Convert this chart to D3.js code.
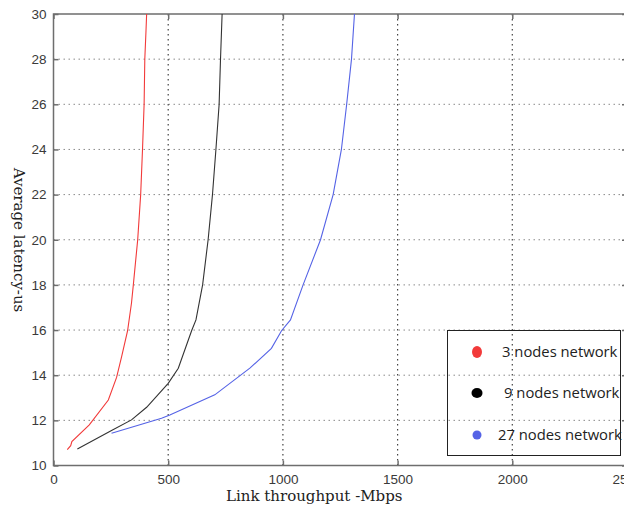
<!DOCTYPE html>
<html>
<head>
<meta charset="utf-8">
<script src="https://cdn.jsdelivr.net/npm/d3@7"></script>
<style>
  body { margin: 0; background: #fff; }
  svg { display: block; }
</style>
</head>
<body>
<svg id="chart" width="624" height="506"></svg>
<script>
// values: [throughput Mbps, latency us]
var nodes3 = [[60, 10.7], [75, 10.88], [80, 11.06], [156, 11.8], [239, 12.9], [275, 13.9],
  [297, 14.82], [323, 15.97], [340, 17.2], [348, 18], [367, 20], [380, 22], [388, 24],
  [395, 26], [398, 28], [403, 29.2], [406, 30]];
var nodes9 = [[104, 10.73], [253, 11.55], [340, 12.02], [406, 12.58], [500, 13.64],
  [544, 14.31], [602, 15.97], [621, 16.45], [650, 18], [674, 20], [693, 22], [708, 24],
  [722, 26], [728, 28], [735, 30]];
var nodes27 = [[253, 11.43], [471, 12.09], [507, 12.24], [703, 13.13], [856, 14.31],
  [950, 15.19], [994, 15.97], [1033, 16.45], [1088, 18], [1164, 20], [1219, 22],
  [1255, 24], [1278, 26], [1299, 28], [1312, 30]];

var seriesNames = ["3 nodes network", "9 nodes network", "27 nodes network"];
var seriesColors = ["#f23a3a", "#333333", "#5563e6"];
var xTicks = [0, 500, 1000, 1500, 2000, 2500];
var yTicks = [10, 12, 14, 16, 18, 20, 22, 24, 26, 28, 30];

var svg = d3.select("#chart");

var x = d3.scaleLinear().domain([0, 2500]).range([53.5, 627]);
var y = d3.scaleLinear().domain([10, 30]).range([465.5, 14]);

// grid
svg.append("g").selectAll("line")
  .data(yTicks.slice(1, -1))
  .enter().append("line")
  .attr("x1", x(0)).attr("x2", x(2500))
  .attr("y1", function (d) { return y(d); })
  .attr("y2", function (d) { return y(d); })
  .attr("stroke", "#8a8a8a")
  .attr("stroke-width", 1)
  .attr("stroke-dasharray", "1.5,3.5");

svg.append("g").selectAll("line")
  .data(xTicks.slice(1, -1))
  .enter().append("line")
  .attr("x1", function (d) { return x(d); })
  .attr("x2", function (d) { return x(d); })
  .attr("y1", y(10)).attr("y2", y(30))
  .attr("stroke", "#444")
  .attr("stroke-width", 1.2)
  .attr("stroke-dasharray", "1.5,3.5");

// frame and inward ticks
var axisColor = "#6e6e6e";
svg.append("rect")
  .attr("x", x(0)).attr("y", y(30))
  .attr("width", x(2500) - x(0)).attr("height", y(10) - y(30))
  .attr("fill", "none").attr("stroke", axisColor).attr("stroke-width", 1.5);

var axisB = svg.append("g").attr("transform", "translate(0," + y(10) + ")")
  .call(d3.axisBottom(x).tickValues(xTicks).tickFormat(d3.format("d"))
    .tickSizeInner(-5).tickSizeOuter(0).tickPadding(9));
var axisT = svg.append("g").attr("transform", "translate(0," + y(30) + ")")
  .call(d3.axisTop(x).tickValues(xTicks).tickSizeInner(-5).tickSizeOuter(0).tickFormat(""));
var axisL = svg.append("g").attr("transform", "translate(" + x(0) + ",0)")
  .call(d3.axisLeft(y).tickValues(yTicks).tickSizeInner(-5).tickSizeOuter(0).tickPadding(7));
var axisR = svg.append("g").attr("transform", "translate(" + x(2500) + ",0)")
  .call(d3.axisRight(y).tickValues(yTicks).tickSizeInner(-5).tickSizeOuter(0).tickFormat(""));

[axisB, axisT, axisL, axisR].forEach(function (g) {
  g.select(".domain").remove();
  g.selectAll(".tick line").attr("stroke", axisColor).attr("stroke-width", 1.5);
  g.selectAll(".tick text")
    .attr("fill", "#3a3a3a")
    .style("font-family", "Arial, 'Liberation Sans', sans-serif")
    .style("font-size", "13.5px");
});

// curves
var line = d3.line()
  .x(function (d) { return x(d[0]); })
  .y(function (d) { return y(d[1]); });

[nodes3, nodes9, nodes27].forEach(function (s, i) {
  svg.append("path")
    .datum(s)
    .attr("d", line)
    .attr("fill", "none")
    .attr("stroke", seriesColors[i])
    .attr("stroke-width", 1.1);
});

// axis titles
svg.append("text")
  .attr("x", 226).attr("y", 501)
  .style("font-family", "'DejaVu Serif', serif")
  .style("font-size", "15px")
  .attr("fill", "#222")
  .text("Link throughput -Mbps");

svg.append("text")
  .attr("transform", "translate(14,240) rotate(90)")
  .attr("text-anchor", "middle")
  .style("font-family", "'DejaVu Serif', serif")
  .style("font-size", "15px")
  .attr("fill", "#222")
  .text("Average latency-us");

// legend
var legend = svg.append("g");
legend.append("rect")
  .attr("x", 447.5).attr("y", 330.5)
  .attr("width", 173).attr("height", 125)
  .attr("fill", "none").attr("stroke", "#222").attr("stroke-width", 1);

var legendY = [352, 393, 435];
var legendTextX = [502, 504, 498];
var legendR = [[5, 6], [5.5, 5], [4.5, 4.5]];
seriesNames.forEach(function (name, i) {
  legend.append("ellipse")
    .attr("cx", 477).attr("cy", legendY[i])
    .attr("rx", legendR[i][0]).attr("ry", legendR[i][1])
    .attr("fill", i === 1 ? "#000" : seriesColors[i]);
  legend.append("text")
    .attr("x", legendTextX[i]).attr("y", legendY[i] + 5)
    .style("font-family", "'Open Sans', sans-serif")
    .style("font-size", "14.8px")
    .attr("fill", "#222")
    .text(name);
});
</script>
</body>
</html>
